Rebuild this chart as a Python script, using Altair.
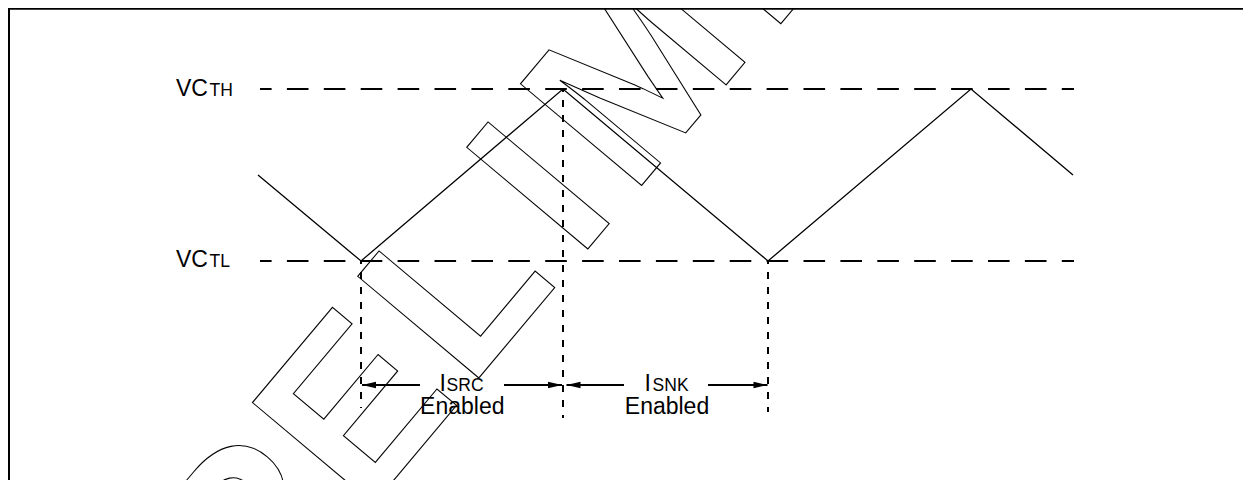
import altair as alt
import pandas as pd

W, H = 1235, 472
OX, OY = 8, 8  # page margin offset: data units are page pixels

# frame
frame_top_y = [8.9]
frame_top_x0 = [8]
frame_top_x1 = [1243]
frame_left_x = [9]
frame_left_y0 = [8]
frame_left_y1 = [480]

# triangle waveform
wave_x = [258, 361, 563, 768, 971, 1073]
wave_y = [175, 261, 89, 261, 89, 175]

# threshold lines and labels
thr_y = [89, 261]
thr_x0 = [260, 260]
thr_x1 = [1074, 1074]
thr_big = ["VC", "VC"]
thr_small = ["TH", "TL"]
thr_label_y = [95.5, 266.5]
thr_big_x = [176, 176]
thr_small_x = [209.5, 209.5]

# enable boundary markers (dotted)
mark_x = [361, 563, 768]
mark_top = [261, 89, 261]
mark_bottom = [408, 418, 412]

# arrows
arrow_from = [420, 504, 624, 708]
arrow_to = [362, 562, 566.5, 767.5]
arrow_head = ["M0,0 L2,-0.45 L2,0.45 Z", "M0,0 L-2,-0.45 L-2,0.45 Z",
              "M0,0 L2,-0.45 L2,0.45 Z", "M0,0 L-2,-0.45 L-2,0.45 Z"]
arrow_y = [385, 385, 385, 385]

# current labels
cur_big = ["I", "I"]
cur_big_x = [439.5, 644.5]
cur_small = ["SRC", "SNK"]
cur_small_x = [446.6, 652.6]
cur_y = [390.7, 390.7]
enabled_text = ["Enabled", "Enabled"]
enabled_x = [462.3, 667]
enabled_y = [414, 414]

# watermark letters (baseline-left anchors)
wm_letters = list("PRELIMINARY")
wm_x = [142.5, 254, 363.7, 469.1, 578.1, 631.8, 771.1, 825, 944.6, 1064.2, 1183.8]
wm_y = [778.8, 646, 516.1, 389.7, 260.8, 197.3, 35.5, -28.8, -171.3, -313.8, -456.3]

xs = alt.Scale(domain=[OX, OX + W], nice=False, zero=False)
ys = alt.Scale(domain=[OY, OY + H], reverse=True, nice=False, zero=False)


def X(f):
    return alt.X(f, type="quantitative", scale=xs, axis=None)


def Y(f):
    return alt.Y(f, type="quantitative", scale=ys, axis=None)


FONT = "Liberation Sans"

wm = alt.Chart(pd.DataFrame({"x": wm_x, "y": wm_y, "t": wm_letters})).mark_text(
    align="left", baseline="alphabetic", angle=310, font=FONT, fontWeight="bold",
    fontSize=230, fillOpacity=0, stroke="black", strokeWidth=1.1
).encode(x=X("x"), y=Y("y"), text="t:N")

top = alt.Chart(pd.DataFrame({"x": frame_top_x0, "x2": frame_top_x1, "y": frame_top_y})).mark_rule(
    color="black", strokeWidth=1.8
).encode(x=X("x"), x2="x2", y=Y("y"))

left = alt.Chart(pd.DataFrame({"x": frame_left_x, "y": frame_left_y0, "y2": frame_left_y1})).mark_rule(
    color="black", strokeWidth=2
).encode(x=X("x"), y=Y("y"), y2="y2")

thr = alt.Chart(pd.DataFrame({"x": thr_x0, "x2": thr_x1, "y": thr_y})).mark_rule(
    color="black", strokeWidth=2, strokeDash=[21.6, 15.3], strokeDashOffset=10
).encode(x=X("x"), x2="x2", y=Y("y"))

wave = alt.Chart(pd.DataFrame({"x": wave_x, "y": wave_y, "o": list(range(len(wave_x)))})).mark_line(
    color="black", strokeWidth=1.3
).encode(x=X("x"), y=Y("y"), order="o:Q")

dots = alt.Chart(pd.DataFrame({"x": mark_x, "y": mark_top, "y2": mark_bottom})).mark_rule(
    color="black", strokeWidth=2, strokeDash=[7, 8], strokeDashOffset=4
).encode(x=X("x"), y=Y("y"), y2="y2")

arr = alt.Chart(pd.DataFrame({"x": arrow_from, "x2": arrow_to, "y": arrow_y})).mark_rule(
    color="black", strokeWidth=2
).encode(x=X("x"), x2="x2", y=Y("y"))

heads = alt.Chart(pd.DataFrame({"x": arrow_to, "y": arrow_y, "s": arrow_head})).mark_point(
    filled=True, size=196, color="black", opacity=1, strokeWidth=0
).encode(x=X("x"), y=Y("y"), shape=alt.Shape("s:N", scale=None))

thr_big_t = alt.Chart(pd.DataFrame({"x": thr_big_x, "y": thr_label_y, "t": thr_big})).mark_text(
    align="left", baseline="alphabetic", font=FONT, fontSize=23, color="black"
).encode(x=X("x"), y=Y("y"), text="t:N")

thr_small_t = alt.Chart(pd.DataFrame({"x": thr_small_x, "y": thr_label_y, "t": thr_small})).mark_text(
    align="left", baseline="alphabetic", font=FONT, fontSize=17.5, color="black"
).encode(x=X("x"), y=Y("y"), text="t:N")

cur_big_t = alt.Chart(pd.DataFrame({"x": cur_big_x, "y": cur_y, "t": cur_big})).mark_text(
    align="left", baseline="alphabetic", font=FONT, fontSize=23, color="black"
).encode(x=X("x"), y=Y("y"), text="t:N")

cur_small_t = alt.Chart(pd.DataFrame({"x": cur_small_x, "y": cur_y, "t": cur_small})).mark_text(
    align="left", baseline="alphabetic", font=FONT, fontSize=17.5, color="black"
).encode(x=X("x"), y=Y("y"), text="t:N")

en_t = alt.Chart(pd.DataFrame({"x": enabled_x, "y": enabled_y, "t": enabled_text})).mark_text(
    align="center", baseline="alphabetic", font=FONT, fontSize=23, color="black"
).encode(x=X("x"), y=Y("y"), text="t:N")

chart = alt.layer(
    wm, thr, wave, dots, arr, heads, thr_big_t, thr_small_t, cur_big_t, cur_small_t, en_t, top, left
).properties(
    width=W, height=H, padding=0, autosize=alt.AutoSizeParams(type="none")
).configure_view(strokeWidth=0)

chart.save("out.html", embed_options={"renderer": "svg", "actions": False})
